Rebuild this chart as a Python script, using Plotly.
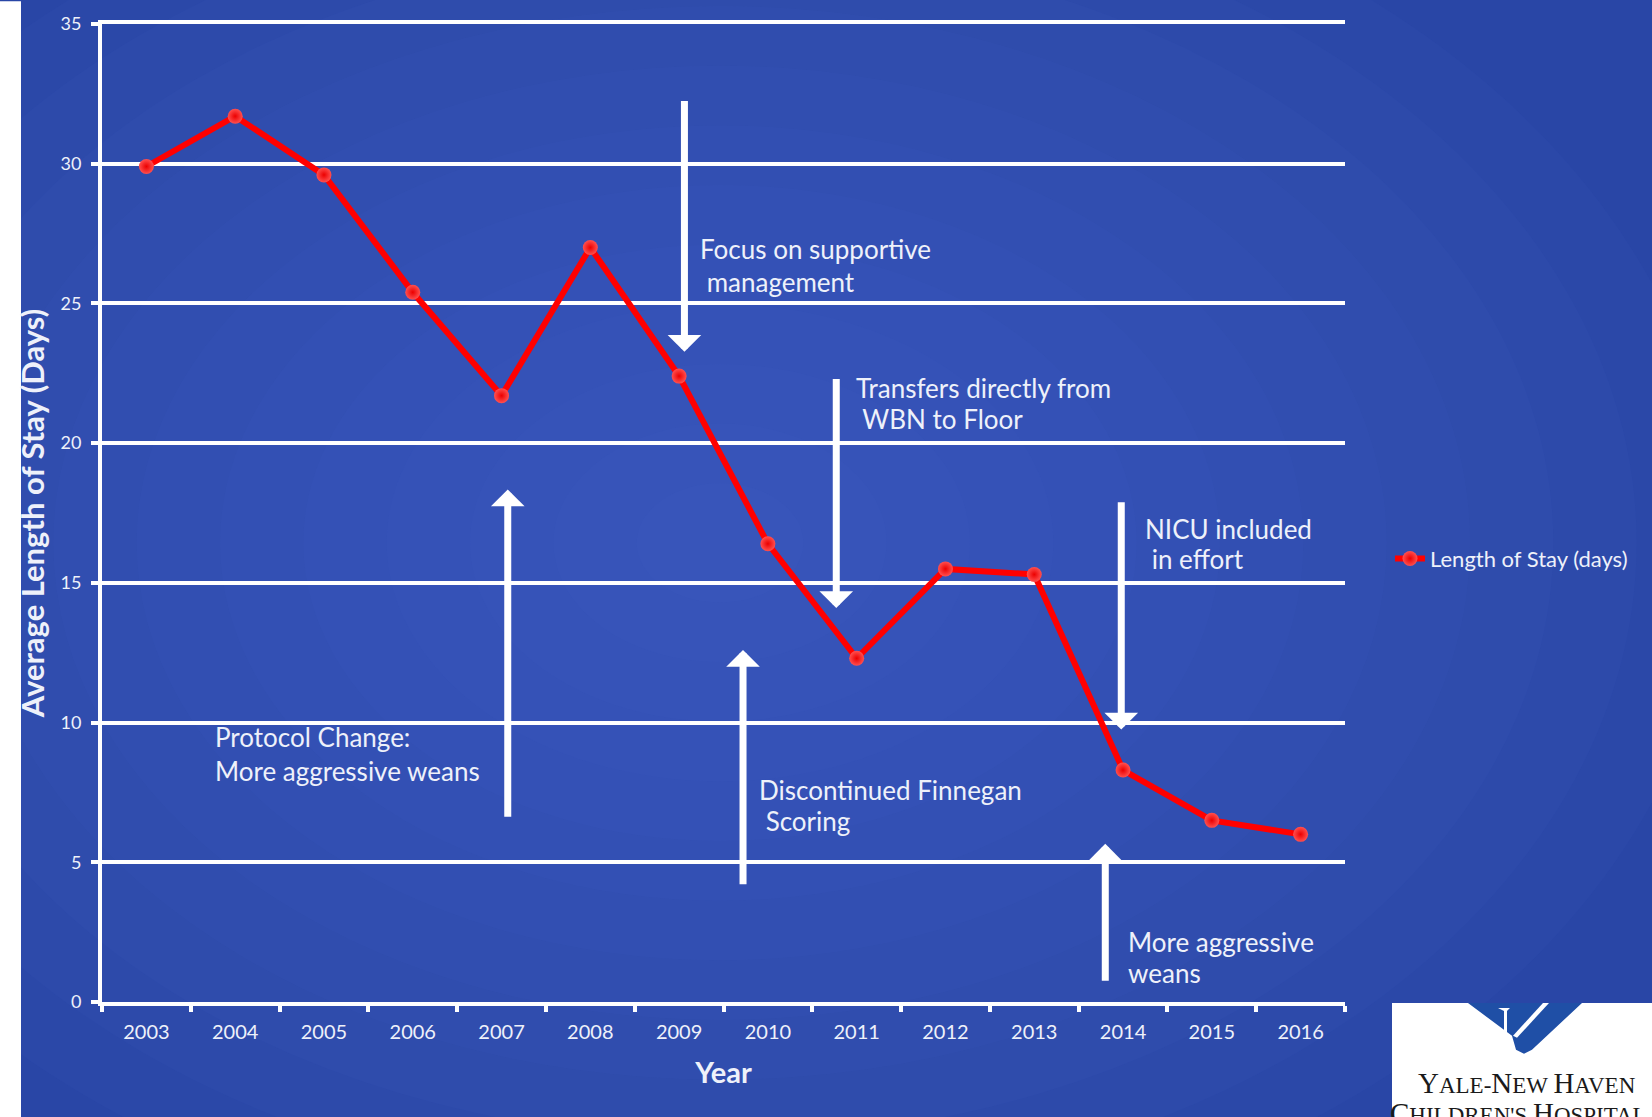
import plotly.graph_objects as go

# ---- data -------------------------------------------------------------
years = ["2003", "2004", "2005", "2006", "2007", "2008", "2009",
         "2010", "2011", "2012", "2013", "2014", "2015", "2016"]
length_of_stay = [29.9, 31.7, 29.6, 25.4, 21.7, 27.0, 22.4,
                  16.4, 12.3, 15.5, 15.3, 8.3, 6.5, 6.0]
series_name = "Length of Stay (days)"
y_ticks = [0, 5, 10, 15, 20, 25, 30, 35]

# intervention notes: (lines of text, x position, y position of each line)
notes = [
    (["Focus on supportive", "\u00a0management"], 6.21, [26.96, 25.76]),
    (["Transfers directly from", "\u00a0WBN to Floor"], 7.965, [21.98, 20.86]),
    (["NICU included", "\u00a0in effort"], 11.22, [16.91, 15.86]),
    (["Protocol Change:", "More aggressive weans"], 0.745, [9.48, 8.26]),
    (["Discontinued Finnegan", "\u00a0Scoring"], 6.872, [7.57, 6.47]),
    (["More aggressive", "weans"], 11.03, [2.14, 1.05]),
]
# arrows: (x position, tail value, tip value)
arrows = [
    (6.06, 32.3, 23.27),
    (7.77, 22.35, 14.1),
    (10.98, 17.94, 9.75),
    (4.07, 6.58, 18.34),
    (6.72, 4.16, 12.6),
    (10.80, 0.71, 5.66),
]

W, H = 1652, 1117
L, R, T, B = 102, 307, 18, 115
PW, PH = W - L - R, H - T - B

FONT = "Lato"
WHITE = "#ffffff"
TXT = "#eef1fa"


def px(xp):
    return (xp - L) / PW


def py(yp):
    return (H - B - yp) / PH


fig = go.Figure()

fig.add_trace(go.Scatter(
    x=years, y=length_of_stay, name=series_name, mode="lines+markers",
    line=dict(color="#ff0000", width=6),
    marker=dict(size=15, color="#ff5050",
                gradient=dict(type="radial", color="#ec0000"),
                line=dict(width=0)),
    showlegend=True,
))

shapes = []
# soft radial glow on the blue backdrop
n = 12
for i in range(n):
    f = 1 - i / n
    rx, ry = 1000 * f, 720 * f
    cx, cy = 720, 540
    shapes.append(dict(type="circle", xref="paper", yref="paper", layer="below",
                       x0=px(cx - rx), x1=px(cx + rx), y0=py(cy + ry), y1=py(cy - ry),
                       fillcolor="#4a6fd6", opacity=0.065, line=dict(width=0)))
# white strip at the left edge
shapes.append(dict(type="rect", xref="paper", yref="paper", layer="above",
                   x0=px(-5), x1=px(21), y0=py(H + 5), y1=py(-5),
                   fillcolor="#ffffff", line=dict(width=0)))
# hospital logo panel
shapes.append(dict(type="rect", xref="paper", yref="paper", layer="above",
                   x0=px(1392), x1=px(W + 5), y0=py(H + 5), y1=py(1003),
                   fillcolor="#ffffff", line=dict(width=0)))


def path(points):
    s = "M " + " L ".join(f"{px(a):.5f},{py(b):.5f}" for a, b in points) + " Z"
    return s


shapes.append(dict(type="path", xref="paper", yref="paper", layer="above",
                   path=path([(1468, 1003), (1582, 1003), (1532, 1050),
                              (1524, 1054), (1516, 1050), (1512, 1036)]),
                   fillcolor="#1f4fa6", line=dict(width=0)))
# white cut lines inside the emblem
shapes.append(dict(type="path", xref="paper", yref="paper", layer="above",
                   path=path([(1543, 1003), (1549, 1003), (1517, 1038), (1513, 1036)]),
                   fillcolor="#ffffff", line=dict(width=0)))
shapes.append(dict(type="path", xref="paper", yref="paper", layer="above",
                   path=path([(1498, 1008), (1510, 1008), (1507, 1011), (1507, 1033),
                              (1504, 1031), (1504, 1011)]),
                   fillcolor="#ffffff", line=dict(width=0)))

annotations = []
for lines, x, ys in notes:
    for txt, y in zip(lines, ys):
        annotations.append(dict(x=x, y=y, xref="x", yref="y", text=txt, showarrow=False,
                                xanchor="left", yanchor="middle", align="left",
                                font=dict(family=FONT, size=26, color=TXT)))
for x, y0, y1 in arrows:
    annotations.append(dict(x=x, y=y1, ax=x, ay=y0, xref="x", yref="y",
                            axref="x", ayref="y", text="", showarrow=True,
                            arrowhead=1, arrowsize=0.8, arrowwidth=7,
                            arrowcolor=WHITE, standoff=0))

big = 'style="font-size:29px"'
annotations.append(dict(
    xref="paper", yref="paper", x=px(1527), y=py(1083), xanchor="center", yanchor="middle",
    text=f'<span {big}>Y</span>ALE-<span {big}>N</span>EW <span {big}>H</span>AVEN',
    showarrow=False, font=dict(family="Liberation Serif", size=23, color="#1a1a1a")))
annotations.append(dict(
    xref="paper", yref="paper", x=px(1388), y=py(1114), xanchor="left", yanchor="middle",
    text=f'<span {big}>C</span>HILDREN\'S <span {big}>H</span>OSPITAL',
    showarrow=False, font=dict(family="Liberation Serif", size=23, color="#1a1a1a")))

fig.update_layout(
    width=W, height=H,
    margin=dict(l=L, r=R, t=T, b=B, pad=0),
    paper_bgcolor="#2946a6",
    plot_bgcolor="rgba(0,0,0,0)",
    shapes=shapes,
    annotations=annotations,
    legend=dict(x=px(1390), y=py(556), xanchor="left", yanchor="middle",
                bgcolor="rgba(0,0,0,0)",
                font=dict(family=FONT, size=22, color=TXT)),
    xaxis=dict(
        type="category", range=[-0.5, 13.5],
        showline=True, mirror=True, linecolor=WHITE, linewidth=4,
        ticks="outside", tickson="boundaries", ticklen=6, tickwidth=4, tickcolor=WHITE,
        showgrid=False, zeroline=False,
        tickfont=dict(family=FONT, size=20, color=TXT),
        ticklabelstandoff=9,
        title=dict(text="<b>Year</b>", font=dict(family=FONT, size=29, color=TXT), standoff=22),
    ),
    yaxis=dict(
        range=[0, 35], tickvals=y_ticks,
        showline=True, linecolor=WHITE, linewidth=4,
        ticks="outside", ticklen=7, tickwidth=4, tickcolor=WHITE,
        showgrid=True, gridcolor=WHITE, gridwidth=4, zeroline=False,
        tickfont=dict(family=FONT, size=18, color=TXT),
        ticklabelstandoff=6,
        title=dict(text="<b>Average Length of Stay (Days)</b>",
                   font=dict(family=FONT, size=31, color=TXT), standoff=8),
    ),
)

fig.write_html("out.html")
